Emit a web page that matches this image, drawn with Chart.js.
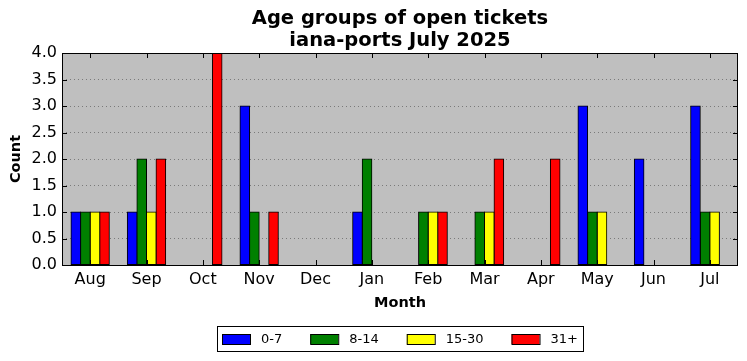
<!DOCTYPE html>
<html>
<head>
<meta charset="utf-8">
<script src="https://cdn.jsdelivr.net/npm/chart.js@4.4.0/dist/chart.umd.min.js"></script>
<style>
  html, body { margin: 0; padding: 0; background: #fff; }
  #wrap { width: 747px; height: 361px; }
</style>
</head>
<body>
<div id="wrap"><canvas id="chart" width="747" height="361"></canvas></div>
<script>
const months = ["Aug", "Sep", "Oct", "Nov", "Dec", "Jan", "Feb", "Mar", "Apr", "May", "Jun", "Jul"];
const age0to7 = [1, 1, 0, 3, 0, 1, 0, 0, 0, 3, 2, 3];
const age8to14 = [1, 2, 0, 1, 0, 2, 1, 1, 0, 1, 0, 1];
const age15to30 = [1, 1, 0, 0, 0, 0, 1, 1, 0, 1, 0, 1];
const age31plus = [1, 2, 4, 1, 0, 0, 1, 2, 2, 0, 0, 0];
const yTicks = [0, 0.5, 1, 1.5, 2, 2.5, 3, 3.5, 4];
const titleLines = ["Age groups of open tickets", "iana-ports July 2025"];

const FONT = "'DejaVu Sans', sans-serif";

const frame = {
  id: "frame",
  beforeDraw(chart) {
    const { ctx, chartArea: a } = chart;
    ctx.save();
    ctx.fillStyle = "#bfbfbf";
    ctx.fillRect(a.left, a.top, a.right - a.left, a.bottom - a.top);
    ctx.restore();
  },
  afterDraw(chart) {
    const { ctx, chartArea: a } = chart;
    const x = chart.scales.x, y = chart.scales.y;
    ctx.save();
    ctx.strokeStyle = "#000";
    ctx.lineWidth = 1;
    // inward ticks
    ctx.beginPath();
    yTicks.forEach(v => {
      const py = Math.round(y.getPixelForValue(v)) + 0.5;
      ctx.moveTo(a.left, py); ctx.lineTo(a.left + 5, py);
      ctx.moveTo(a.right, py); ctx.lineTo(a.right - 5, py);
    });
    months.forEach((m, i) => {
      const px = Math.round(x.getPixelForValue(i)) + 0.5;
      ctx.moveTo(px, a.bottom); ctx.lineTo(px, a.bottom - 5);
      ctx.moveTo(px, a.top); ctx.lineTo(px, a.top + 5);
    });
    ctx.stroke();
    ctx.strokeRect(Math.round(a.left) + 0.5, Math.round(a.top) + 0.5,
      Math.round(a.right - a.left) - 1, Math.round(a.bottom - a.top));

    // title
    const cx = (a.left + a.right) / 2;
    ctx.fillStyle = "#000";
    ctx.textAlign = "center";
    ctx.textBaseline = "middle";
    ctx.font = "bold 19.5px " + FONT;
    ctx.fillText(titleLines[0], cx, 19);
    ctx.fillText(titleLines[1], cx, 41);

    // axis titles
    ctx.font = "bold 14.5px " + FONT;
    ctx.fillText("Month", cx, 303);
    ctx.save();
    ctx.translate(16, (a.top + a.bottom) / 2);
    ctx.rotate(-Math.PI / 2);
    ctx.fillText("Count", 0, 0);
    ctx.restore();

    // legend
    ctx.font = "13px " + FONT;
    const ds = chart.data.datasets;
    const sw = 28, gapText = 11, gapItem = 28, pad = 5;
    let total = pad * 2;
    ds.forEach((d, i) => {
      total += sw + gapText + ctx.measureText(d.label).width + (i < ds.length - 1 ? gapItem : 0);
    });
    const lx = Math.round(cx - total / 2);
    const ly = 326, lh = 25;
    ctx.strokeRect(lx + 0.5, ly + 0.5, Math.round(total), lh);
    let px = lx + pad;
    ctx.textAlign = "left";
    ds.forEach(d => {
      ctx.fillStyle = d.backgroundColor;
      ctx.fillRect(px, ly + 8, sw, 10);
      ctx.strokeRect(px + 0.5, ly + 8.5, sw, 10);
      px += sw + gapText;
      ctx.fillStyle = "#000";
      ctx.fillText(d.label, px, ly + 14);
      px += ctx.measureText(d.label).width + gapItem;
    });
    ctx.restore();
  }
};

const barStyle = { borderColor: "#000", borderWidth: 1, borderSkipped: false, inflateAmount: 0.5, barPercentage: 1, categoryPercentage: 0.68 };

new Chart(document.getElementById("chart"), {
  type: "bar",
  data: {
    labels: months,
    datasets: [
      { label: "0-7", data: age0to7, backgroundColor: "#0000ff", ...barStyle },
      { label: "8-14", data: age8to14, backgroundColor: "#008000", ...barStyle },
      { label: "15-30", data: age15to30, backgroundColor: "#ffff00", ...barStyle },
      { label: "31+", data: age31plus, backgroundColor: "#ff0000", ...barStyle }
    ]
  },
  options: {
    responsive: false,
    animation: false,
    layout: { padding: { top: 53, right: 9, left: 0, bottom: 0 } },
    plugins: {
      legend: { display: false },
      title: { display: false },
      tooltip: { enabled: false }
    },
    scales: {
      x: {
        grid: { display: false, drawTicks: false },
        border: { display: false },
        ticks: { color: "#000", font: { family: FONT, size: 16 }, padding: 5, maxRotation: 0 },
        afterFit(s) { s.height = 96; }
      },
      y: {
        min: 0,
        max: 4,
        afterBuildTicks(s) { s.ticks = yTicks.map(v => ({ value: v })); },
        grid: { color: "#7a7a7a", lineWidth: 1, drawTicks: false },
        border: { display: false, dash: [1, 3] },
        ticks: { color: "#000", font: { family: FONT, size: 16 }, padding: 5, callback: v => v.toFixed(1) },
        afterFit(s) { s.width = 62; }
      }
    }
  },
  plugins: [frame]
});
</script>
</body>
</html>
